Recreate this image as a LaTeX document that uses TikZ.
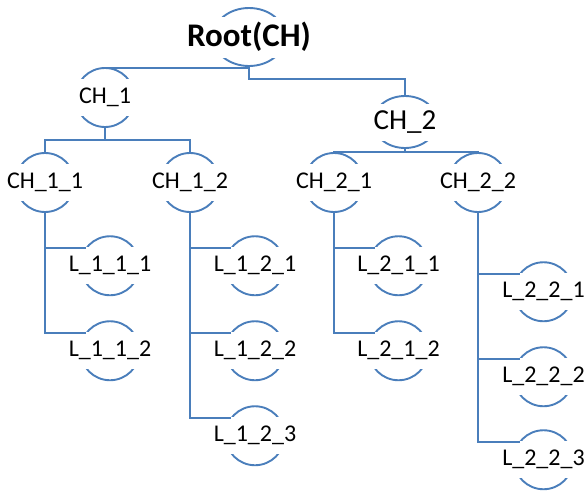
\documentclass[tikz,border=0pt]{standalone}
\usepackage{fontspec}
\setmainfont{Carlito}
\usetikzlibrary{shapes.geometric}
\definecolor{linkblue}{RGB}{74,126,187}
\begin{document}
\begin{tikzpicture}[x=1pt,y=-1pt,
  conn/.style={draw=linkblue, line width=2pt},
  ring/.style={circle, draw=linkblue, line width=1.9pt, minimum size=59pt, inner sep=0pt, outer sep=0pt},
  oval/.style={ellipse, draw=linkblue, line width=1.9pt, inner sep=0pt, outer sep=0pt},
  lbl/.style={fill=white, inner xsep=2pt, inner ysep=0pt, minimum height=37pt, minimum width=64pt, font=\fontsize{24}{28}\selectfont, text=black},
]
\useasboundingbox (0,0) rectangle (584,491);
% shapes
\node[oval, minimum width=72pt, minimum height=58pt] (root) at (249,37) {};
\node[ring] (ch1) at (105,97.5) {};
\node[oval, minimum width=64pt, minimum height=52pt] (ch2) at (405,122) {};
\node[ring] (ch11) at (45,182.5) {};
\node[ring] (ch12) at (190,182.5) {};
\node[ring] (ch21) at (334,182.5) {};
\node[ring] (ch22) at (478,182.5) {};
\node[ring] (l111) at (110,265.75) {};
\node[ring] (l112) at (110,350.75) {};
\node[ring] (l121) at (255,265.75) {};
\node[ring] (l122) at (255,350.75) {};
\node[ring] (l123) at (255,435.75) {};
\node[ring] (l211) at (398.5,265.75) {};
\node[ring] (l212) at (398.5,350.75) {};
\node[ring] (l221) at (543.5,291.75) {};
\node[ring] (l222) at (543.5,376.75) {};
\node[ring] (l223) at (543.5,459.75) {};
% labels
\node[lbl, minimum height=41pt, font=\fontsize{33}{38}\selectfont\bfseries] (roott) at (root) {Root(CH)};
\node[lbl] (ch1t) at (ch1) {CH\_1};
\node[lbl, font=\fontsize{29}{34}\selectfont, minimum width=68pt] (ch2t) at (ch2) {CH\_2};
\node[lbl] (ch11t) at (ch11) {CH\_1\_1};
\node[lbl] (ch12t) at (ch12) {CH\_1\_2};
\node[lbl] (ch21t) at (ch21) {CH\_2\_1};
\node[lbl] (ch22t) at (ch22) {CH\_2\_2};
\node[lbl] (l111t) at (l111) {L\_1\_1\_1};
\node[lbl] (l112t) at (l112) {L\_1\_1\_2};
\node[lbl] (l121t) at (l121) {L\_1\_2\_1};
\node[lbl] (l122t) at (l122) {L\_1\_2\_2};
\node[lbl] (l123t) at (l123) {L\_1\_2\_3};
\node[lbl] (l211t) at (l211) {L\_2\_1\_1};
\node[lbl] (l212t) at (l212) {L\_2\_1\_2};
\node[lbl] (l221t) at (l221) {L\_2\_2\_1};
\node[lbl] (l222t) at (l222) {L\_2\_2\_2};
\node[lbl] (l223t) at (l223) {L\_2\_2\_3};
% connectors
\draw[conn] (root.south) |- (ch1.north);
\draw[conn] (root.south) -- ++(0,13) -| (ch2.north);
\draw[conn] (ch1.south) -- ++(0,13) -| (ch11.north);
\draw[conn] (ch1.south) -- ++(0,13) -| (ch12.north);
\draw[conn] (ch2.south) -- ++(0,4) -| (ch21.north);
\draw[conn] (ch2.south) -- ++(0,4) -| (ch22.north);
\draw[conn] (ch11.south) |- (l111.143);
\draw[conn] (ch11.south) |- (l112.143);
\draw[conn] (ch12.south) |- (l121.143);
\draw[conn] (ch12.south) |- (l122.143);
\draw[conn] (ch12.south) |- (l123.143);
\draw[conn] (ch21.south) |- (l211.143);
\draw[conn] (ch21.south) |- (l212.143);
\draw[conn] (ch22.south) |- (l221.143);
\draw[conn] (ch22.south) |- (l222.143);
\draw[conn] (ch22.south) |- (l223.143);
\end{tikzpicture}
\end{document}
